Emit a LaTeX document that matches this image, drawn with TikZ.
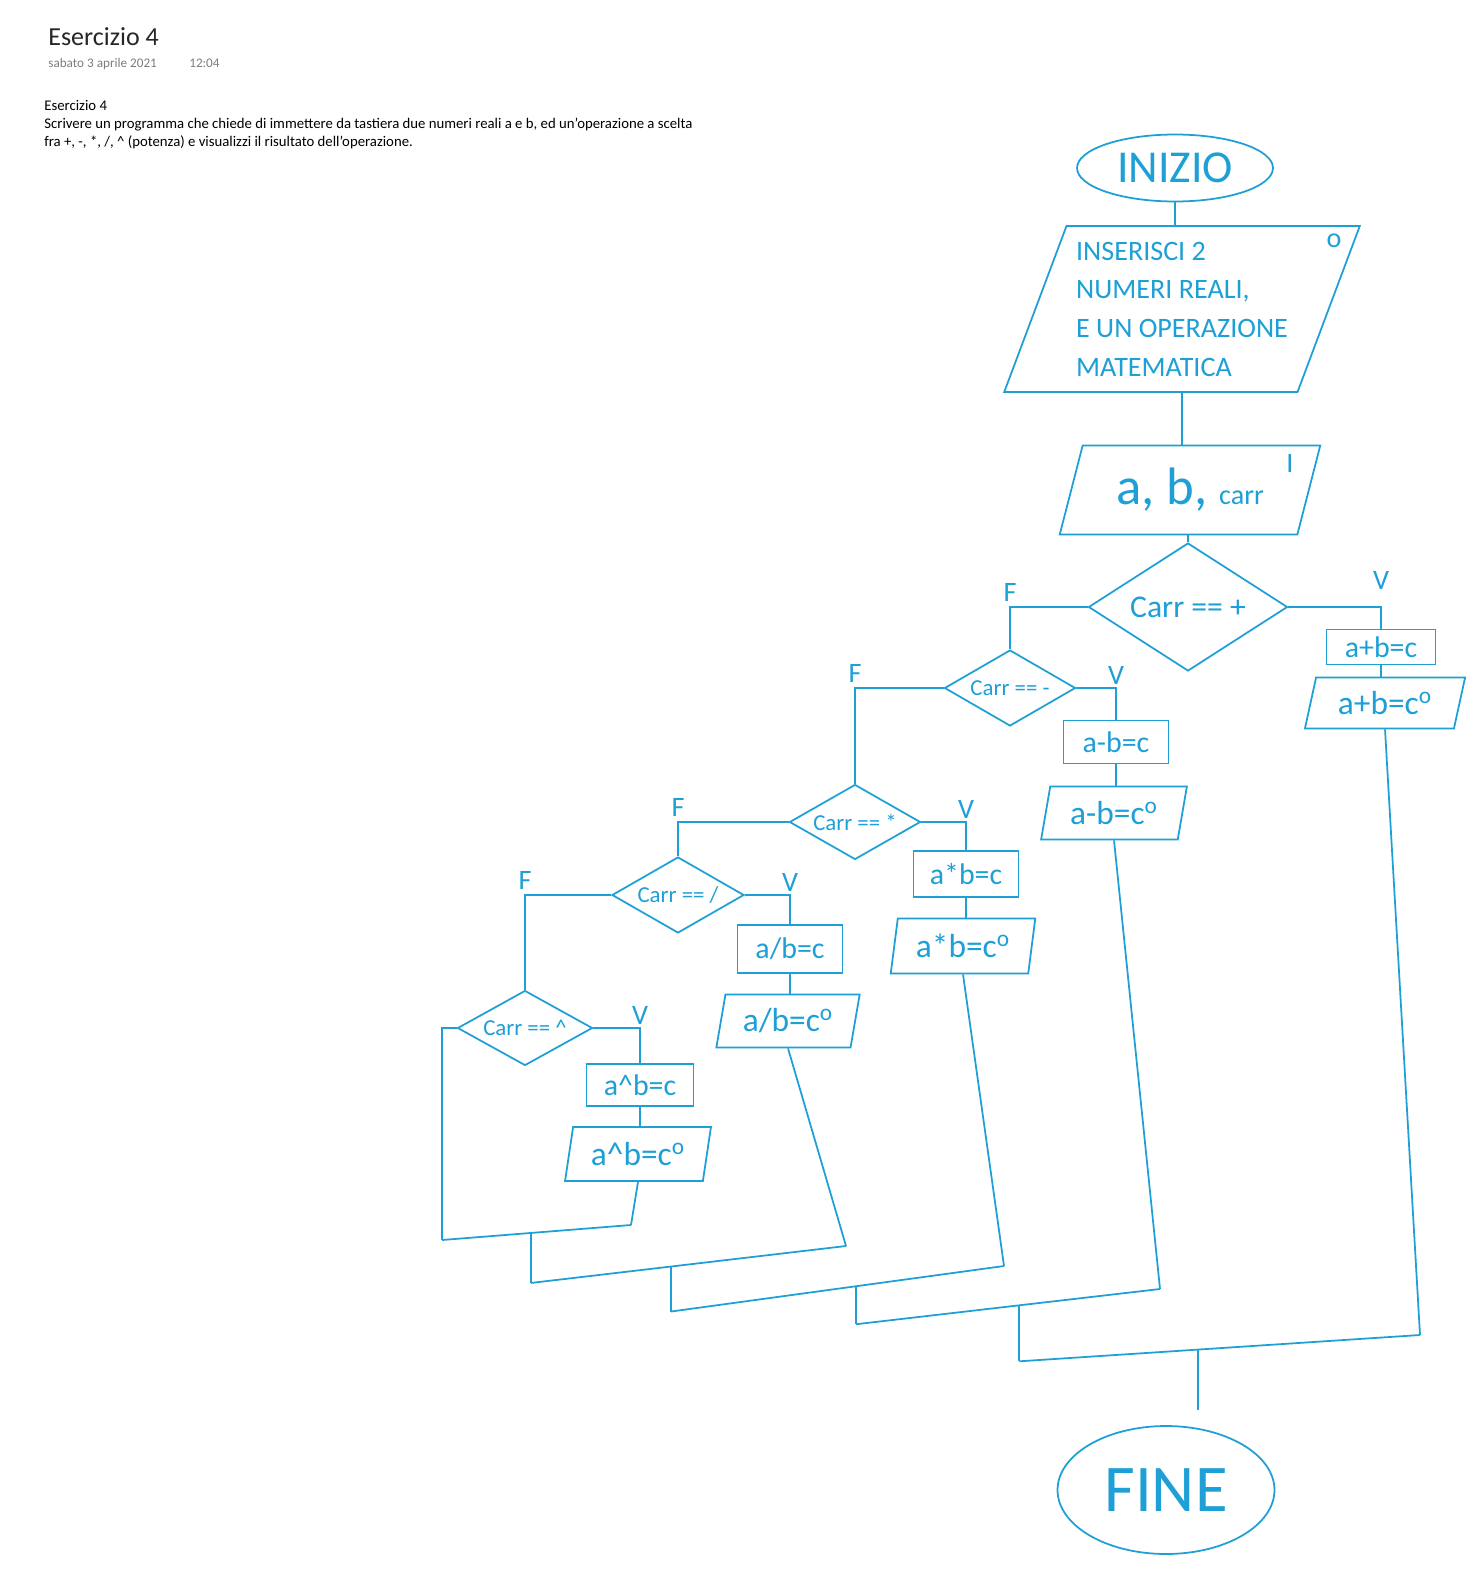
\documentclass[tikz,border=0pt]{standalone}
\usepackage{fontspec}
\setmainfont{Carlito}
\usepackage{tikz}
\usetikzlibrary{shapes.geometric, positioning, calc}
\definecolor{penblue}{RGB}{30,160,215}
\definecolor{dategray}{RGB}{125,125,125}

\begin{document}
\begin{tikzpicture}[x=0.02cm, y=-0.02cm,
  penline/.style={draw=penblue, line width=1pt},
  pentext/.style={text=penblue},
  terminal/.style={ellipse, penline, pentext, inner sep=0pt},
  iobox/.style={trapezium, trapezium stretches=true, penline, pentext, inner sep=0pt},
  decision/.style={diamond, aspect=1.7, penline, pentext, inner sep=0pt, font=\fontsize{13}{15}\selectfont},
  opbox/.style={rectangle, penline, pentext, inner sep=0pt, font=\fontsize{17}{19}\selectfont},
  outbox/.style={iobox, font=\fontsize{19}{21}\selectfont},
  vflabel/.style={pentext, inner sep=1pt, font=\fontsize{16}{18}\selectfont},
  link/.style={draw=penblue, line width=1pt},
  header/.style={anchor=base west, inner sep=0pt}]

\fill[white] (0,0) rectangle (1472,1585);
\useasboundingbox (0,0) rectangle (1472,1585);

% intestazione
\node[header, font=\fontsize{14.8}{17}\selectfont, text=black!85] (titolo) at (48,46) {Esercizio 4};
\node[header, font=\fontsize{7.5}{9}\selectfont, text=dategray] (data) at (48,68) {sabato 3 aprile 2021};
\node[header, font=\fontsize{7.5}{9}\selectfont, text=dategray] (ora) at (189,68) {12:04};
\node[header, font=\fontsize{8.4}{10.3}\selectfont] (testo1) at (44,111) {Esercizio 4};
\node[header, font=\fontsize{8.4}{10.3}\selectfont] (testo2) at (44,129) {Scrivere un programma che chiede di immettere da tastiera due numeri reali a e b, ed un'operazione a scelta};
\node[header, font=\fontsize{8.4}{10.3}\selectfont] (testo3) at (44,147) {fra +, -, *, /, \textasciicircum{} (potenza) e visualizzi il risultato dell'operazione.};

% blocchi
\node[terminal, minimum width=3.92cm, minimum height=1.34cm, font=\fontsize{26}{28}\selectfont] (ini) at (1175,168) {INIZIO};
\node[iobox, trapezium left angle=67, trapezium right angle=113, minimum width=7.12cm, minimum height=3.32cm, font=\fontsize{16}{22}\selectfont, align=left] (inp) at (1182,309) {INSERISCI 2\\NUMERI REALI,\\E UN OPERAZIONE\\MATEMATICA};
\node[vflabel] (marko) at (1334,241) {o};
\node[iobox, trapezium left angle=70, trapezium right angle=110, minimum width=5.22cm, minimum height=1.78cm] (dati) at (1190,490) {\fontsize{30}{32}\selectfont a, b, \fontsize{16}{18}\selectfont carr};
\node[vflabel] (marki) at (1290,463) {I};

\node[decision, aspect=1.55, minimum width=3.98cm, minimum height=2.56cm, font=\fontsize{18}{20}\selectfont] (dplus) at (1188,607) {Carr == +};
\node[opbox, minimum width=2.18cm, minimum height=0.7cm] (rplus) at (1381,647) {a+b=c};
\node[outbox, trapezium left angle=72, trapezium right angle=108, minimum width=3.22cm, minimum height=1.02cm] (oplus) at (1385,703) {a+b=c\textsuperscript{o}};

\node[decision, minimum width=2.62cm, minimum height=1.52cm] (dminus) at (1010,688) {Carr == -};
\node[opbox, minimum width=2.1cm, minimum height=0.86cm] (rminus) at (1116,742) {a-b=c};
\node[outbox, trapezium left angle=75, trapezium right angle=105, minimum width=2.92cm, minimum height=1.06cm] (ominus) at (1114,813) {a-b=c\textsuperscript{o}};

\node[decision, minimum width=2.62cm, minimum height=1.5cm] (dper) at (855,822) {Carr == *};
\node[opbox, minimum width=2.1cm, minimum height=0.92cm] (rper) at (966,874) {a*b=c};
\node[outbox, trapezium left angle=78, trapezium right angle=102, minimum width=2.9cm, minimum height=1.1cm] (oper) at (963,946) {a*b=c\textsuperscript{o}};

\node[decision, minimum width=2.64cm, minimum height=1.52cm] (ddiv) at (678,895) {Carr == /};
\node[opbox, minimum width=2.1cm, minimum height=0.96cm] (rdiv) at (790,949) {a/b=c};
\node[outbox, trapezium left angle=75, trapezium right angle=105, minimum width=2.88cm, minimum height=1.06cm] (odiv) at (788,1021) {a/b=c\textsuperscript{o}};

\node[decision, minimum width=2.7cm, minimum height=1.5cm] (dpot) at (525,1028) {Carr == \textasciicircum};
\node[opbox, minimum width=2.14cm, minimum height=0.84cm] (rpot) at (640,1085) {a\textasciicircum b=c};
\node[outbox, trapezium left angle=76, trapezium right angle=104, minimum width=2.92cm, minimum height=1.08cm] (opot) at (638,1154) {a\textasciicircum b=c\textsuperscript{o}};

\node[terminal, minimum width=4.34cm, minimum height=2.56cm, font=\fontsize{38}{40}\selectfont] (fine) at (1166,1490) {FINE};

% collegamenti
\draw[link] (ini.south) -- (ini.south |- inp.north);
\draw[link] (inp.south) -- (inp.south |- dati.north);
\draw[link] (dplus.north |- dati.south) -- (dplus.north);

\draw[link] (dplus.east) -| node[vflabel, pos=0.5, above=0.3cm] {V} (rplus.north);
\draw[link] (rplus.south) -- (rplus.south |- oplus.north);
\draw[link] (dplus.west) -| node[vflabel, pos=0.5, above=0.05cm] {F} (dminus.north);

\draw[link] (dminus.east) -| node[vflabel, pos=0.5, above=0.02cm] {V} (rminus.north);
\draw[link] (rminus.south) -- (rminus.south |- ominus.north);
\draw[link] (dminus.west) -| node[vflabel, pos=0.5, above=0.05cm] {F} (dper.north);

\draw[link] (dper.east) -| node[vflabel, pos=0.5, above=0.02cm] {V} (rper.north);
\draw[link] (rper.south) -- (rper.south |- oper.north);
\draw[link] (dper.west) -| node[vflabel, pos=0.5, above=0.05cm] {F} (ddiv.north);

\draw[link] (ddiv.east) -| node[vflabel, pos=0.5, above=0.02cm] {V} (rdiv.north);
\draw[link] (rdiv.south) -- (rdiv.south |- odiv.north);
\draw[link] (ddiv.west) -| node[vflabel, pos=0.5, above=0.05cm] {F} (dpot.north);

\draw[link] (dpot.east) -| node[vflabel, pos=0.5, above=0.02cm] {V} (rpot.north);
\draw[link] (rpot.south) -- (rpot.south |- opot.north);

% ricongiungimenti
\coordinate (jpot) at (442,1240);
\coordinate (epot) at (631,1225);
\coordinate (ediv) at (846,1246);
\coordinate (eper) at (1004,1266);
\coordinate (eminus) at (1160,1289);
\coordinate (eplus) at (1420,1335);
\draw[link] (dpot.west) -| (jpot);
\draw[link] (opot.south) -- (epot);
\draw[link] (odiv.south) -- (ediv);
\draw[link] (oper.south) -- (eper);
\draw[link] (ominus.south) -- (eminus);
\draw[link] (oplus.south) -- (eplus);

\draw[link] (jpot) -- (epot);
\coordinate (s1) at ($(jpot)!0.47!(epot)$);
\coordinate (t1) at ($(s1)+(0,50)$);
\draw[link] (s1) -- (t1);
\draw[link] (t1) -- (ediv);
\coordinate (s2) at ($(t1)!0.445!(ediv)$);
\coordinate (t2) at ($(s2)+(0,45)$);
\draw[link] (s2) -- (t2);
\draw[link] (t2) -- (eper);
\coordinate (s3) at ($(t2)!0.556!(eper)$);
\coordinate (t3) at ($(s3)+(0,38)$);
\draw[link] (s3) -- (t3);
\draw[link] (t3) -- (eminus);
\coordinate (s4) at ($(t3)!0.537!(eminus)$);
\coordinate (t4) at ($(s4)+(0,56)$);
\draw[link] (s4) -- (t4);
\draw[link] (t4) -- (eplus);
\coordinate (s5) at ($(t4)!0.445!(eplus)$);
\draw[link, shorten >=0.3cm] (s5) -- (s5 |- fine.north);
\end{tikzpicture}
\end{document}
